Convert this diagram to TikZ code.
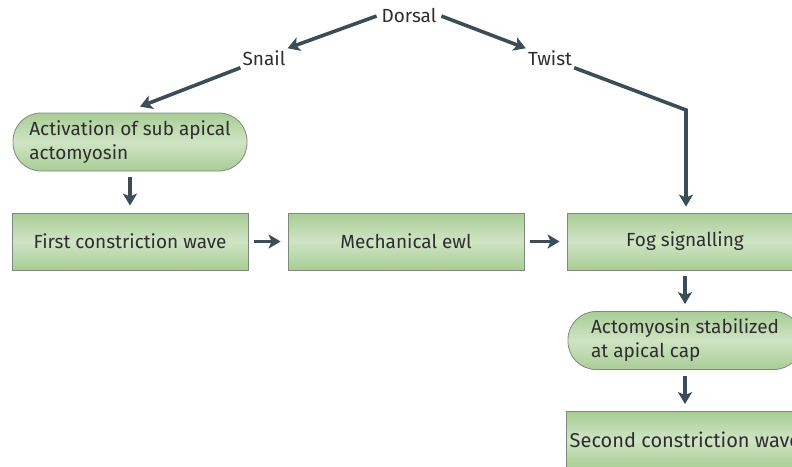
\documentclass[tikz,border=0pt]{standalone}
\usepackage{fontspec}
\setmainfont{Fira Sans}
\usepackage{tikz}
\usetikzlibrary{arrows.meta}

\definecolor{arrowgray}{HTML}{3C4D57}
\definecolor{boxedge}{HTML}{7E8A7C}
\definecolor{boxlight}{HTML}{CFE4C4}
\definecolor{boxdark}{HTML}{A9CD96}
\definecolor{labeltext}{HTML}{2E2E2E}

\tikzset{
	flow/.style={draw=arrowgray, line width=3.6pt,
		-{Stealth[length=12pt, width=14pt, inset=3pt]}},
	gap/.style={shorten <=6pt, shorten >=7pt},
	greenfill/.style={draw=boxedge, line width=0.8pt,
		top color=boxdark, bottom color=boxdark, middle color=boxlight},
	stepbox/.style={greenfill, rectangle, minimum width=236pt, minimum height=57pt},
	pill/.style={greenfill, rectangle, rounded corners=28pt,
		minimum width=234pt, minimum height=58pt, align=left},
	gene/.style={inner sep=2pt}
}

\begin{document}
\begin{tikzpicture}[x=1pt, y=-1pt, text=labeltext,
		font=\fontsize{19}{24}\selectfont]
	\useasboundingbox (0, 0) rectangle (792, 466);
	\clip (0, 0) rectangle (792, 466);

	% genes
	\node[gene] (dorsal) at (409, 15) {Dorsal};
	\node[gene] (snail) at (264, 58) {Snail};
	\node[gene] (twist) at (550, 58) {Twist};

	% boxes
	\node[pill] (act) at (130, 142) {Activation of sub apical\\actomyosin};
	\node[stepbox] (first) at (130, 241.5) {First constriction wave};
	\node[stepbox] (mech) at (406, 241.5) {Mechanical ewl};
	\node[stepbox] (fog) at (685, 241.5) {Fog signalling};
	\node[pill] (stab) at (685, 340.5) {Actomyosin stabilized\\at apical cap};
	\node[stepbox, font=\fontsize{20}{24}\selectfont] (second) at (685, 440)
		{Second constriction wave};

	% arrows
	\coordinate (bend) at (686, 110);
	\draw[flow, shorten <=3pt] (dorsal.west) -- (snail.north east);
	\draw[flow, shorten <=3pt] (dorsal.east) -- (twist.north west);
	\draw[flow] (snail.south west) -- ([xshift=10pt, yshift=6pt]act.north);
	\draw[flow, shorten >=6pt, line join=miter]
		(twist.south east) -- (bend) -- (bend |- fog.north);
	\foreach \a/\b in {act/first, first/mech, mech/fog, fog/stab, stab/second} {
		\draw[flow, gap] (\a) -- (\b);
	}
\end{tikzpicture}
\end{document}
